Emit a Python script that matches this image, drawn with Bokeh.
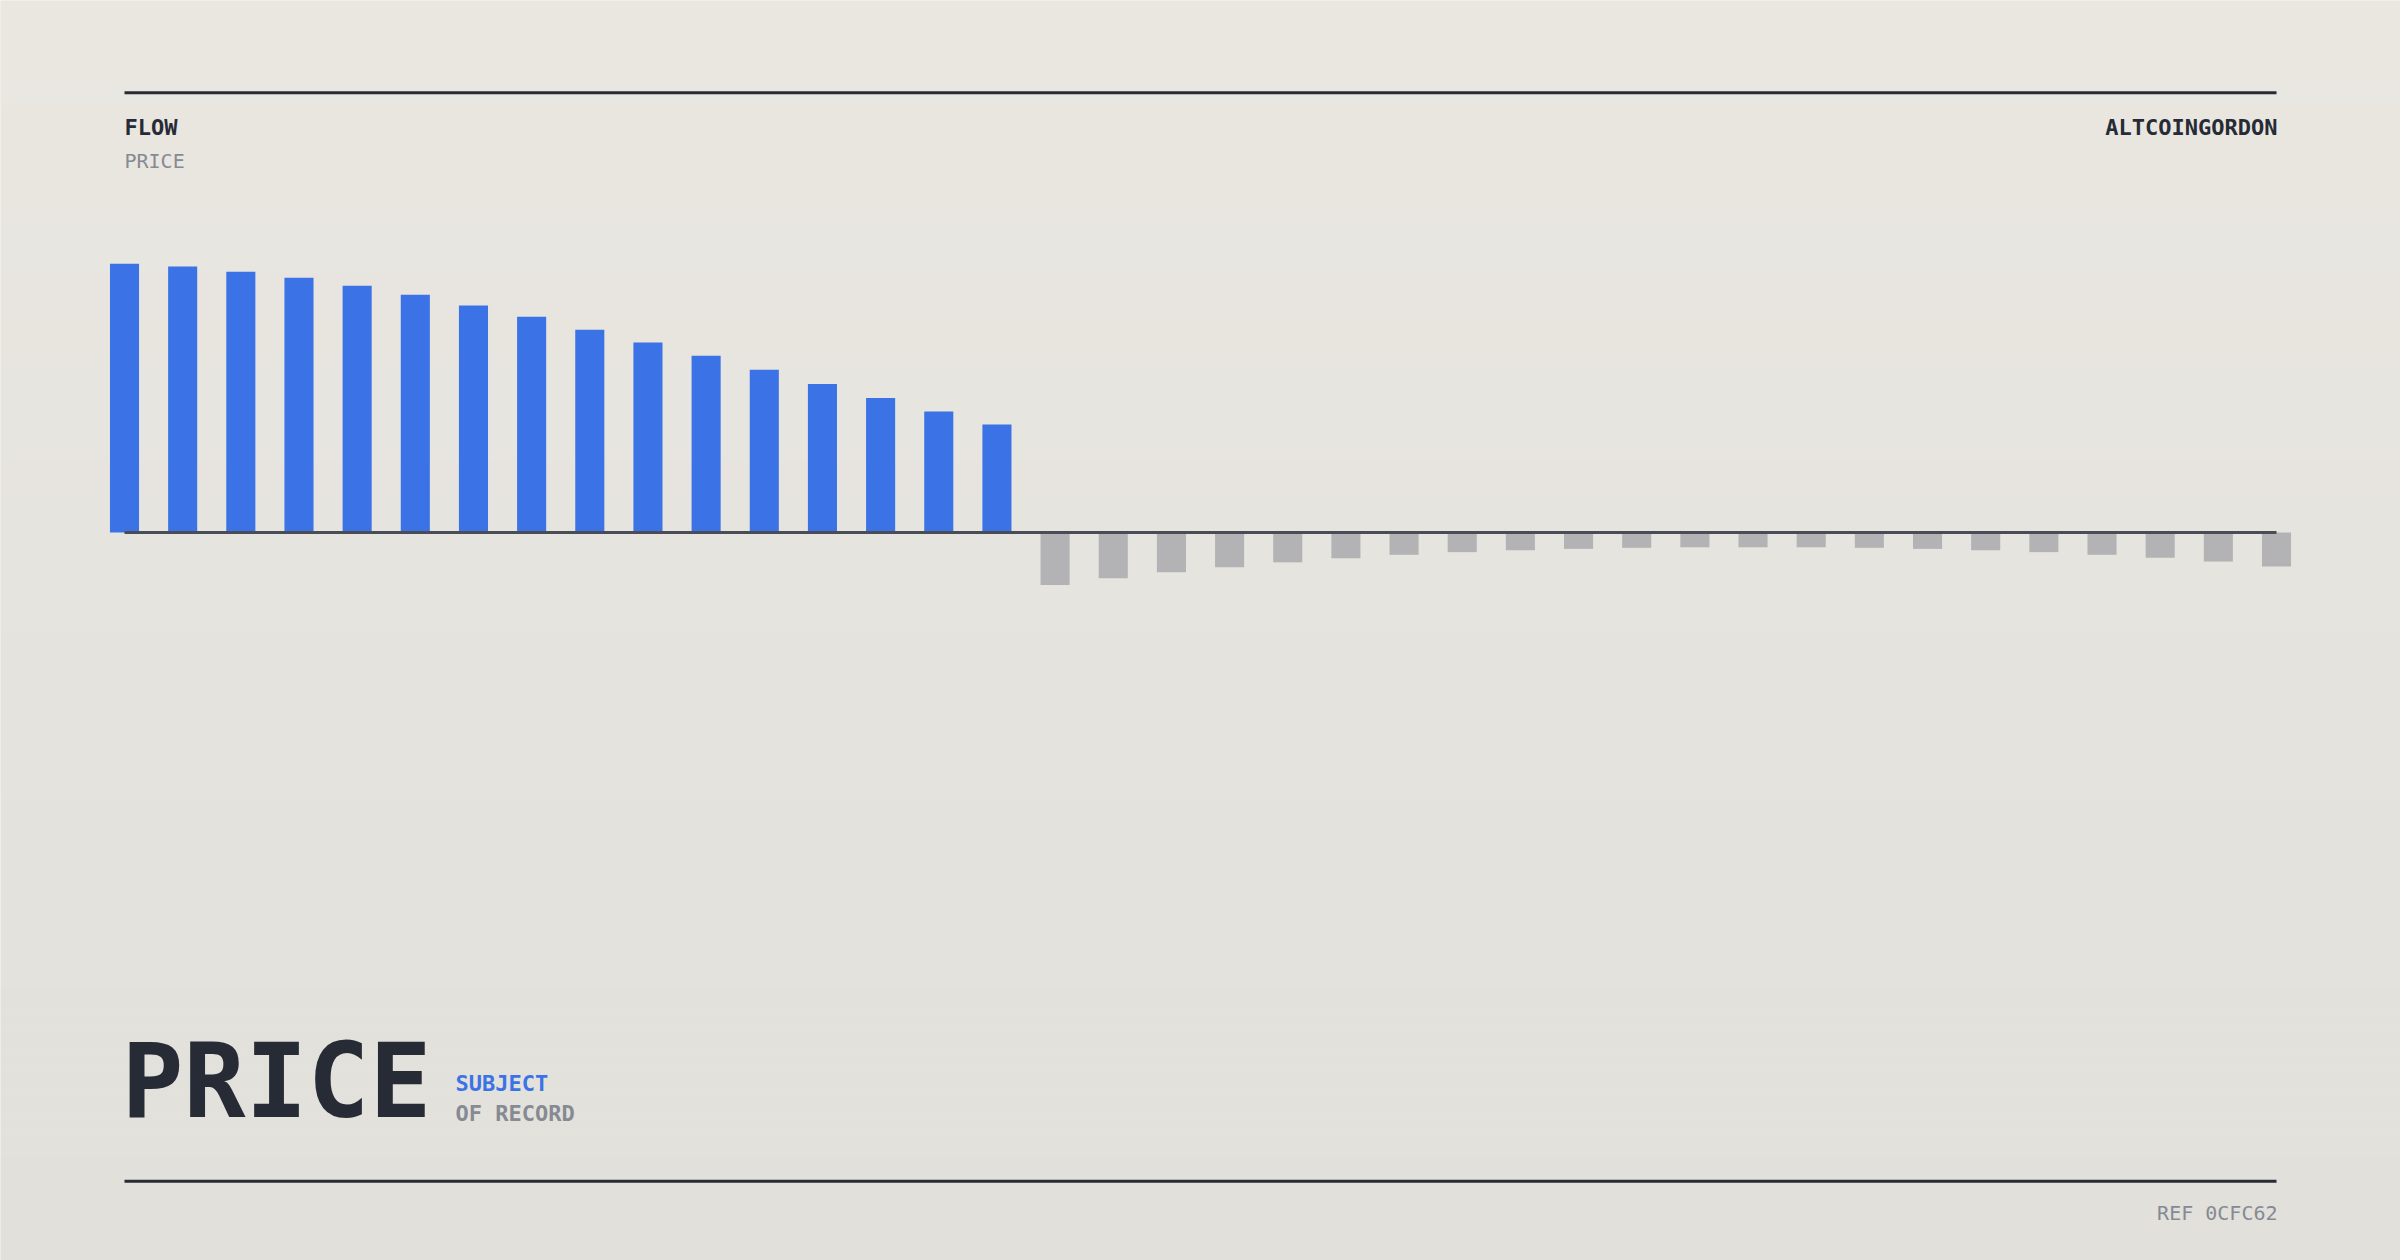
from bokeh.plotting import figure
from bokeh.models import Range1d, ColumnDataSource
from bokeh.core.properties import value
from bokeh.embed import file_html
from bokeh.resources import INLINE

# ---------------- data ----------------
periods = list(range(38))
price_up = [100.0, 99.0, 97.0, 94.8, 91.8, 88.5, 84.5, 80.3, 75.5, 70.7,
            65.8, 60.6, 55.3, 50.1, 45.0, 40.2]
price_down = [-19.5, -17.0, -14.8, -12.9, -11.1, -9.6, -8.3, -7.3, -6.6, -6.1,
              -5.7, -5.5, -5.5, -5.5, -5.7, -6.1, -6.6, -7.3, -8.3, -9.4,
              -10.8, -12.7]
values = price_up + price_down

title_small = "FLOW"
subtitle_small = "PRICE"
author = "ALTCOINGORDON"
big_title = "PRICE"
tag1 = "SUBJECT"
tag2 = "OF RECORD"
ref_text = "REF 0CFC62"

# ---------------- layout ----------------
W, H = 2400, 1260
OFF = 0
X0_REF, X1_REF = 124.0, 2276.0   # first / last bar centre (page px)
Y0_REF = 532.0                   # zero line (page px)
SY = 2.687                       # px per value unit
n = len(values)
SX = (X1_REF - X0_REF) / (n - 1)

def X(px):
    return (px - X0_REF) / SX

def Y(py):
    return (Y0_REF - py) / SY

x_start, x_end = X(OFF), X(OFF + W)
y_top, y_bot = Y(OFF), Y(OFF + H)

BG = "#e6e4de"
p = figure(width=W, height=H, output_backend="svg", toolbar_location=None,
           x_range=Range1d(x_start, x_end), y_range=Range1d(y_bot, y_top),
           min_border=0, min_border_left=0, min_border_right=0,
           min_border_top=0, min_border_bottom=0)
p.xaxis.visible = False
p.yaxis.visible = False
p.grid.visible = False
p.outline_line_color = None
p.background_fill_color = BG
p.border_fill_color = BG

# background gradient (top -> bottom)
c_top = (234, 231, 225)
c_bot = (225, 224, 219)
bands = 60
b_tops, b_bots, b_cols = [], [], []
for i in range(bands):
    t = i / (bands - 1)
    col = tuple(int(round(c_top[k] + (c_bot[k] - c_top[k]) * t)) for k in range(3))
    b_tops.append(y_top - (y_top - y_bot) * i / bands)
    b_bots.append(y_top - (y_top - y_bot) * (i + 1) / bands - 0.01)
    b_cols.append("#%02x%02x%02x" % col)
p.quad(left=x_start, right=x_end, top=b_tops, bottom=b_bots,
       fill_color=b_cols, line_color=None)

# bars
BLUE = "#3b73e6"
GREY = "#b3b3b5"
colors = [BLUE if v >= 0 else GREY for v in values]
src = ColumnDataSource(dict(x=periods, top=values, color=colors))
p.vbar(x="x", top="top", bottom=0, width=0.5, source=src,
       fill_color="color", line_color=None)

# zero line
p.segment(x0=[0], y0=[0], x1=[n - 1], y1=[0], line_color="#4a4d56",
          line_width=3)

# top / bottom rules
DARK = "#272b35"
p.segment(x0=[X(124), X(124)], y0=[Y(92.3), Y(1180.7)],
          x1=[X(2276), X(2276)], y1=[Y(92.3), Y(1180.7)],
          line_color=DARK, line_width=3)

MONO = "DejaVu Sans Mono"
GREYTXT = "#868a93"

def label(txt, px, py, size, color, style="normal", align="left"):
    p.text(x=[X(px)], y=[Y(py)], text=[txt], text_font=value(MONO),
           text_font_size=value(size), text_color=color,
           text_font_style=style, text_align=align,
           text_baseline="alphabetic")

label(title_small, 124, 127, "22px", DARK, "bold")
label(subtitle_small, 124, 160.5, "20px", GREYTXT)
label(author, 2277, 127, "22px", DARK, "bold", "right")
label(tag1, 455, 1083, "22px", BLUE, "bold")
label(tag2, 455, 1113, "22px", GREYTXT, "bold")
label(ref_text, 2277, 1212, "20px", GREYTXT, "normal", "right")
label(big_title, 121, 1080, "103px", DARK, "bold")

open("out.html", "w").write(file_html(p, INLINE))
